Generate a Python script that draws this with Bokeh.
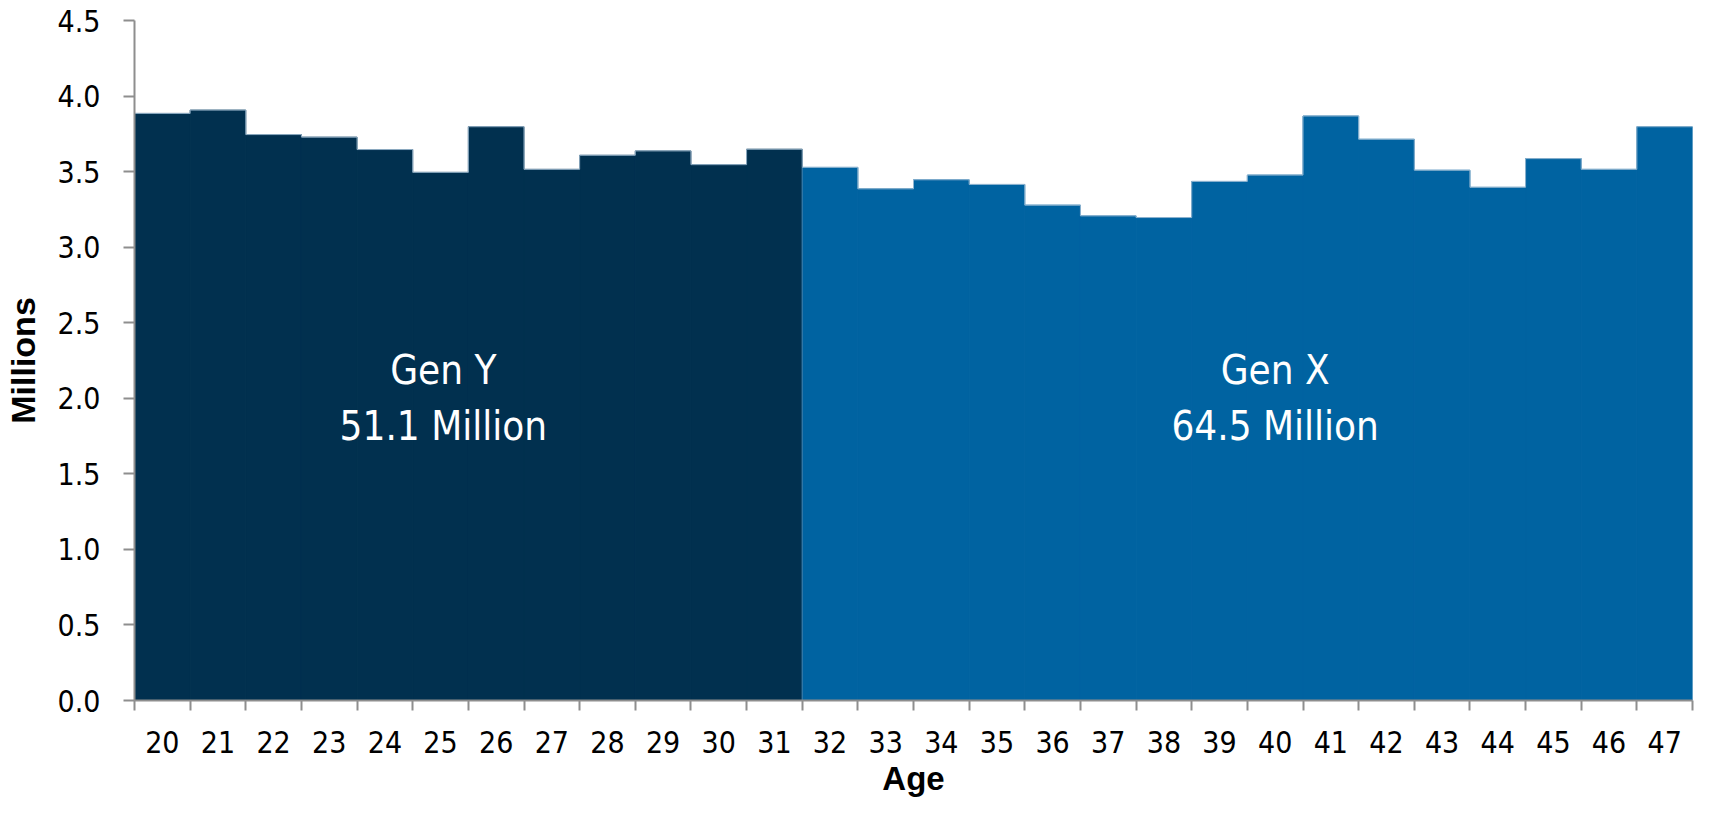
from bokeh.plotting import figure
from bokeh.models import Range1d, FixedTicker
from bokeh.core.properties import value
from bokeh.embed import file_html
from bokeh.resources import INLINE

# ---- data ----
gen_y_ages = [20, 21, 22, 23, 24, 25, 26, 27, 28, 29, 30, 31]
gen_y_vals = [3.885, 3.907, 3.745, 3.728, 3.646, 3.495, 3.797, 3.515, 3.608, 3.637, 3.546, 3.648]
gen_x_ages = [32, 33, 34, 35, 36, 37, 38, 39, 40, 41, 42, 43, 44, 45, 46, 47]
gen_x_vals = [3.528, 3.386, 3.446, 3.415, 3.278, 3.207, 3.196, 3.435, 3.477, 3.868, 3.714,
              3.509, 3.396, 3.586, 3.515, 3.797]
group_titles = ["Gen Y", "Gen X"]
group_totals = ["51.1 Million", "64.5 Million"]
y_ticks = [0.0, 0.5, 1.0, 1.5, 2.0, 2.5, 3.0, 3.5, 4.0, 4.5]
x_title = "Age"
y_title = "Millions"

ages = gen_y_ages + gen_x_ages
vals = gen_y_vals + gen_x_vals

NARROW = "'DejaVu Sans Condensed', 'Liberation Sans Narrow', Roboto, sans-serif"
AXIS_GREY = "#8e8e8e"
DARK = "#01304F"
BLUE = "#0063A1"

p = figure(width=1695, height=799, output_backend="svg", toolbar_location=None,
           x_range=Range1d(ages[0] - 0.5, ages[-1] + 0.5), y_range=Range1d(0, 4.5),
           min_border_left=126, min_border_right=3, min_border_top=20, min_border_bottom=10)
p.outline_line_color = None
p.xgrid.grid_line_color = None
p.ygrid.grid_line_color = None
p.background_fill_color = "white"
p.border_fill_color = "white"

# bars
p.vbar(x=gen_y_ages, top=gen_y_vals, width=1.0, bottom=0, fill_color=DARK,
       line_color=DARK, line_width=1)
p.vbar(x=gen_x_ages, top=gen_x_vals, width=1.0, bottom=0, fill_color=BLUE,
       line_color=BLUE, line_width=1)

# light outline along the top profile
p.segment(x0=[a - 0.5 for a in ages], x1=[a + 0.5 for a in ages], y0=vals, y1=vals,
          line_color="#a9c3d8", line_width=1, line_alpha=0.85)
p.segment(x0=[a + 0.5 for a in ages[:-1]], x1=[a + 0.5 for a in ages[:-1]],
          y0=vals[:-1], y1=vals[1:], line_color="#a9c3d8", line_width=1, line_alpha=0.85)
p.segment(x0=[gen_x_ages[0] - 0.5], x1=[gen_x_ages[0] - 0.5], y0=[0], y1=[gen_x_vals[0]],
          line_color="#6f93b3", line_width=1, line_alpha=0.6)

# group labels
label_x = [25.05, 40]
p.text(x=label_x, y=[2.19, 2.19], text=group_titles, text_color="white",
       text_font=value(NARROW), text_font_size="40px", text_align="center", text_baseline="middle")
p.text(x=label_x, y=[1.815, 1.815], text=group_totals, text_color="white",
       text_font=value(NARROW), text_font_size="40px", text_align="center", text_baseline="middle")

# x axis
xa = p.xaxis[0]
xa.ticker = FixedTicker(ticks=ages, minor_ticks=[a - 0.5 for a in ages] + [ages[-1] + 0.5])
xa.major_tick_out = 0
xa.major_tick_in = 0
xa.minor_tick_out = 10
xa.minor_tick_in = 0
xa.minor_tick_line_color = AXIS_GREY
xa.minor_tick_line_width = 2
xa.axis_line_color = AXIS_GREY
xa.axis_line_width = 2
xa.major_label_text_font = NARROW
xa.major_label_text_font_size = "30px"
xa.major_label_text_color = "black"
xa.major_label_standoff = 20
xa.axis_label = x_title
xa.axis_label_text_font = "Liberation Sans"
xa.axis_label_text_font_style = "bold"
xa.axis_label_text_font_size = "33px"
xa.axis_label_text_color = "black"
xa.axis_label_standoff = 4

# y axis
ya = p.yaxis[0]
ya.ticker = FixedTicker(ticks=y_ticks)
ya.major_label_overrides = {t: f"{t:.1f}" for t in y_ticks}
ya.major_tick_out = 11
ya.major_tick_in = 0
ya.minor_tick_out = 0
ya.minor_tick_in = 0
ya.major_tick_line_color = AXIS_GREY
ya.major_tick_line_width = 2
ya.axis_line_color = AXIS_GREY
ya.axis_line_width = 2
ya.major_label_text_font = NARROW
ya.major_label_text_font_size = "30px"
ya.major_label_text_color = "black"
ya.major_label_standoff = 23
ya.axis_label = y_title
ya.axis_label_text_font = "Liberation Sans"
ya.axis_label_text_font_style = "bold"
ya.axis_label_text_font_size = "34px"
ya.axis_label_text_color = "black"
ya.axis_label_standoff = 13

open("out.html", "w").write(file_html(p, INLINE))
